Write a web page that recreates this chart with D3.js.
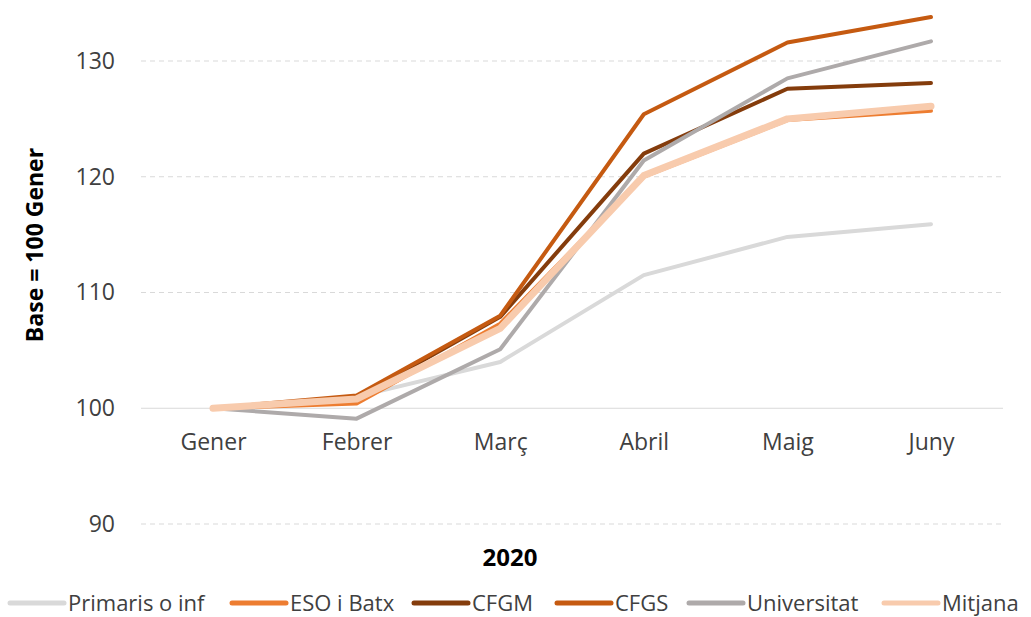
<!DOCTYPE html>
<html>
<head>
<meta charset="utf-8">
<script src="https://cdn.jsdelivr.net/npm/d3@7"></script>
<style>
body { margin: 0; background: #fff; }
.tick text { font-family: "Open Sans", sans-serif; font-size: 23px; fill: #404040; }
.legend text { font-family: "Open Sans", sans-serif; font-size: 22px; fill: #404040; }
.title { font-family: "Open Sans", sans-serif; font-weight: bold; fill: #000; }
</style>
</head>
<body>
<script>
const WIDTH = 1031
const HEIGHT = 617

const months = ["Gener", "Febrer", "Març", "Abril", "Maig", "Juny"]
const yTicks = [90, 100, 110, 120, 130]

const primaris = [100, 101.0, 104.0, 111.5, 114.8, 115.9]
const esoBatx = [100, 100.4, 107.3, 120.0, 124.9, 125.7]
const cfgm = [100, 100.9, 107.9, 122.0, 127.6, 128.1]
const cfgs = [100, 101.1, 108.0, 125.4, 131.6, 133.8]
const universitat = [100, 99.1, 105.1, 121.4, 128.5, 131.7]
const mitjana = [100, 100.8, 106.9, 120.1, 125.0, 126.1]

const series = [
    {name: "Primaris o inf", values: primaris, color: "#d9d9d9", width: 4},
    {name: "ESO i Batx", values: esoBatx, color: "#ed7d31", width: 4},
    {name: "CFGM", values: cfgm, color: "#843c0c", width: 4},
    {name: "CFGS", values: cfgs, color: "#c55a11", width: 4},
    {name: "Universitat", values: universitat, color: "#aeaaaa", width: 4},
    {name: "Mitjana", values: mitjana, color: "#f8cbad", width: 7}
]
const legendX = [8, 230, 412, 555, 687, 882]

var svg = d3.select("body").append("svg")
    .attr("width", WIDTH)
    .attr("height", HEIGHT);

var x = d3.scalePoint().domain(months).range([213, 931]);
var y = d3.scaleLinear().domain([90, 130]).range([524, 61]);

// grid
svg.append("g").selectAll("line")
    .data(yTicks)
    .join("line")
    .attr("x1", 141)
    .attr("x2", 1003)
    .attr("y1", d => y(d))
    .attr("y2", d => y(d))
    .attr("stroke", "#d9d9d9")
    .attr("stroke-width", 1)
    .attr("stroke-dasharray", d => d === 100 ? null : "5,4");

// y axis
var yAxis = svg.append("g")
    .attr("transform", "translate(141,0)")
    .call(d3.axisLeft(y).tickValues(yTicks).tickSize(0).tickPadding(26));
yAxis.select(".domain").remove();

// x axis along base 100
var xAxis = svg.append("g")
    .attr("transform", "translate(0," + y(100) + ")")
    .call(d3.axisBottom(x).tickSize(0).tickPadding(25));
xAxis.select(".domain").remove();

var line = d3.line()
    .x((d, i) => x(months[i]))
    .y(d => y(d));

svg.append("g").selectAll("path")
    .data(series)
    .join("path")
    .attr("d", d => line(d.values))
    .attr("fill", "none")
    .attr("stroke", d => d.color)
    .attr("stroke-width", d => d.width)
    .attr("stroke-linecap", "round")
    .attr("stroke-linejoin", "round");

svg.append("text")
    .classed("title", true)
    .attr("font-size", 23)
    .attr("transform", "translate(35,245) rotate(-90)")
    .attr("text-anchor", "middle")
    .attr("dy", "0.35em")
    .text("Base = 100 Gener");

svg.append("text")
    .classed("title", true)
    .attr("font-size", 24)
    .attr("x", 510)
    .attr("y", 566)
    .attr("text-anchor", "middle")
    .text("2020");

var legend = svg.append("g").classed("legend", true)
    .selectAll("g")
    .data(series)
    .join("g")
    .attr("transform", (d, i) => "translate(" + legendX[i] + ",603)");

legend.append("line")
    .attr("x1", 2)
    .attr("x2", 56)
    .attr("stroke", d => d.color)
    .attr("stroke-width", 5)
    .attr("stroke-linecap", "round");

legend.append("text")
    .attr("x", 60)
    .attr("dy", "0.36em")
    .text(d => d.name);
</script>
</body>
</html>
